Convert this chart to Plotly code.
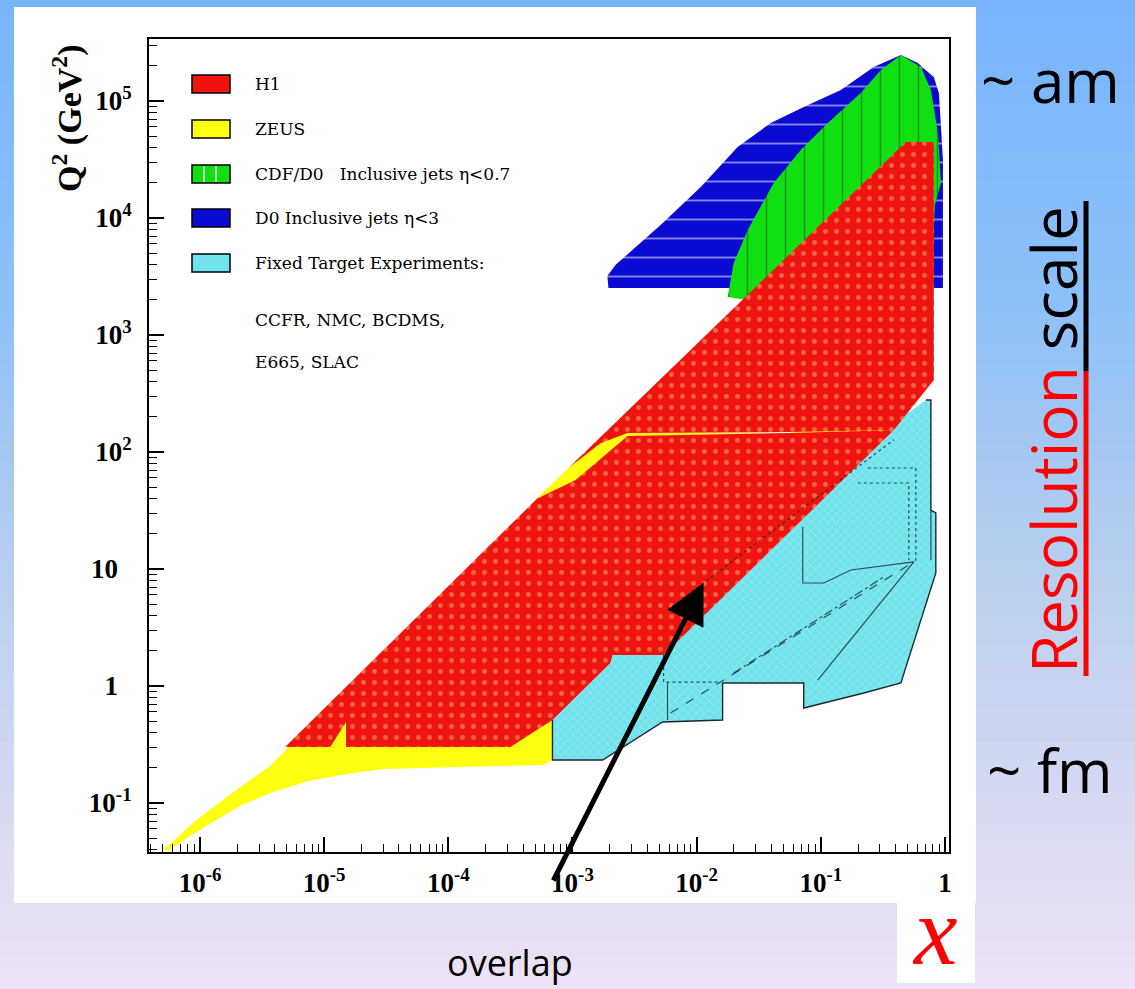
import math
import plotly.graph_objects as go

# ---------------- page / frame geometry (page pixels) ----------------
W, H = 1135, 989
PLOT_L, PLOT_R, PLOT_T, PLOT_B = 149, 949, 39, 852

# log10 ranges of the frame
X_RANGE = [-6.411, 0.033]
Q_RANGE = [-1.419, 5.530]

# ---------------- kinematic regions: polygon vertices (x, Q^2 in GeV^2) ----------------
zeus_x = [5.04e-7, 5.52e-7, 8.95e-7, 1.81e-6, 3.67e-6, 5.03e-6, 9.29e-6, 3.81e-4, 4.95e-4,
          9.29e-4, 1.68e-3, 2.78e-3, 5.73e-2, 0.442, 0.703, 0.703, 0.305, 1.08e-2, 1.68e-3,
          7.43e-4, 5.83e-4, 1.23e-4, 3.05e-5, 1.50e-5, 7.43e-6, 3.67e-6, 2.10e-6, 1.27e-6,
          7.85e-7, 5.52e-7]
zeus_q2 = [0.0412, 0.0428, 0.0689, 0.122, 0.207, 0.290, 0.565, 26.3, 38.5,
           73.0, 124, 145, 145, 2430, 2430, 352, 115, 2.47, 0.512,
           0.243, 0.211, 0.203, 0.195, 0.177, 0.154, 0.122, 0.0942, 0.0689,
           0.0502, 0.0389]

h1_low_x = [4.84e-6, 1.12e-5, 1.50e-5, 1.50e-5, 3.16e-4, 6.90e-4, 2.02e-3, 2.10e-3, 5.42e-3,
            0.388, 5.73e-2, 2.78e-3, 1.06e-3, 5.20e-4]
h1_low_q2 = [0.301, 0.301, 0.492, 0.301, 0.301, 0.512, 1.57, 1.84, 1.84,
             154, 145, 137, 57.7, 40.0]

h1_high_x = [9.29e-4, 0.484, 0.815, 0.815, 0.388, 5.73e-2, 2.78e-3, 1.68e-3]
h1_high_q2 = [73.0, 44700, 44700, 412, 154, 148, 145, 119]

d0_x = [1.95e-3, 1.91e-3, 2.22e-3, 3.53e-3, 5.13e-3, 1.08e-2, 2.14e-2, 3.95e-2, 7.29e-2,
        0.145, 0.267, 0.442, 0.605, 0.815, 0.895, 0.964, 0.964]
d0_q2 = [2520, 3190, 3970, 6110, 8710, 18400, 40400, 64800, 88900,
         124000, 195000, 247000, 211000, 160000, 117000, 31300, 2520]

cdf_x = [1.78e-2, 1.99e-2, 2.58e-2, 4.18e-2, 6.90e-2, 0.114, 0.210, 0.305, 0.442,
         0.640, 0.771, 0.879, 0.929, 0.830, 0.771, 3.28e-2]
cdf_q2 = [2110, 4120, 7900, 19900, 38100, 64800, 117000, 184000, 247000,
          195000, 124000, 53200, 19900, 12900, 1990, 1910]

fixed_x = [6.90e-4, 1.75e-3, 5.32e-3, 1.62e-2, 1.62e-2, 7.29e-2, 7.29e-2, 0.222, 0.442,
           0.845, 0.845, 0.771, 0.771, 0.703, 0.442, 5.42e-3, 2.10e-3, 6.90e-4]
fixed_q2 = [0.233, 0.233, 0.492, 0.512, 1.06, 1.06, 0.648, 0.871, 1.06,
            9.25, 30.1, 31.9, 278, 278, 195, 2.11, 2.03, 0.759]

# visible outer edge of the fixed-target area
fixed_edge_x = [6.90e-4] + fixed_x[:14]
fixed_edge_q2 = [0.512] + fixed_q2[:14]

# individual fixed-target experiment boundaries inside the combined area
ft_edges = [
    ([5.83e-3, 5.83e-3], [1.08, 0.512], "solid"),
    ([5.42e-3, 5.42e-3, 1.56e-2], [1.84, 1.08, 1.08], "dot"),
    ([6.17e-3, 0.562], [0.587, 11.5], "dash"),
    ([1.99e-2, 0.322], [1.29, 8.55], "dashdot"),
    ([5.83e-3, 0.388], [4.47, 127], "dot"),
    ([0.199, 0.512, 0.512], [54.3, 54.3, 11.9], "dot"),
    ([0.239, 0.583, 0.583], [73.0, 73.0, 11.5], "dot"),
    ([7.16e-2, 7.16e-2, 0.106, 0.175, 0.562], [22.9, 7.59, 7.59, 9.80, 11.5], "solid"),
    ([9.46e-2, 0.562], [1.12, 11.5], "solid"),
    ([0.771, 0.771], [31.9, 11.9], "solid"),
]

# arrow pointing at the HERA / fixed-target overlap
overlap_x, overlap_q2 = 0.01138, 7.59

# axis ticks
x_tickvals = [1e-6, 1e-5, 1e-4, 1e-3, 1e-2, 1e-1, 1]
x_ticktext = ["10<sup>-6</sup>", "10<sup>-5</sup>", "10<sup>-4</sup>", "10<sup>-3</sup>",
              "10<sup>-2</sup>", "10<sup>-1</sup>", "1"]
y_tickvals = [1e-1, 1, 10, 1e2, 1e3, 1e4, 1e5]
y_ticktext = ["10<sup>-1</sup>", "1\u2007", "10\u2007", "10<sup>2</sup>", "10<sup>3</sup>",
              "10<sup>4</sup>", "10<sup>5</sup>"]

legend_labels = ["H1", "ZEUS", "CDF/D0   Inclusive jets \u03b7<0.7", "D0 Inclusive jets \u03b7<3",
                 "Fixed Target Experiments:"]
legend_extra = ["CCFR, NMC, BCDMS,", "E665, SLAC"]

# colours
RED, YELLOW, GREEN, BLUE, CYAN = "#f01410", "#ffff10", "#10e010", "#0a0ad2", "#6fe2ec"
EDGE = "#1a2a30"


def px(x):
    return (x - PLOT_L) / (PLOT_R - PLOT_L)


def py(y):
    return (PLOT_B - y) / (PLOT_B - PLOT_T)


fig = go.Figure()


def region(xs, qs, color, pattern=None):
    kw = dict(x=xs, y=qs, mode="lines", fill="toself", fillcolor=color,
              line=dict(width=0, color=color), hoverinfo="skip", showlegend=False)
    if pattern:
        kw["fillpattern"] = pattern
    fig.add_trace(go.Scatter(**kw))


region(zeus_x, zeus_q2, YELLOW)
region(fixed_x, fixed_q2, CYAN,
       dict(shape="x", bgcolor=CYAN, fgcolor="#c6f6fa", size=6, solidity=0.25))
region(d0_x, d0_q2, BLUE,
       dict(shape="-", bgcolor=BLUE, fgcolor="#ffffff", size=19, solidity=0.1))
region(cdf_x, cdf_q2, GREEN,
       dict(shape="|", bgcolor=GREEN, fgcolor="#104a20", size=19, solidity=0.08))
h1_pattern = dict(shape=".", bgcolor=RED, fgcolor="#f7b870", size=11, solidity=0.16)
region(h1_low_x, h1_low_q2, RED, h1_pattern)
region(h1_high_x, h1_high_q2, RED, h1_pattern)

fig.add_trace(go.Scatter(x=fixed_edge_x, y=fixed_edge_q2, mode="lines",
                         line=dict(color=EDGE, width=1.4),
                         hoverinfo="skip", showlegend=False))
for xs, qs, dash in ft_edges:
    fig.add_trace(go.Scatter(x=xs, y=qs, mode="lines",
                             line=dict(color=EDGE, width=1.2, dash=dash),
                             opacity=0.8, hoverinfo="skip", showlegend=False))

# ---------------- background: gradient page, white panels ----------------
shapes = []
stops = [(0, (119, 180, 252)), (300, (140, 192, 248)), (600, (188, 208, 238)), (989, (238, 226, 246))]


def grad(y):
    for (y0, c0), (y1, c1) in zip(stops[:-1], stops[1:]):
        if y0 <= y <= y1:
            t = (y - y0) / (y1 - y0)
            return "rgb(%d,%d,%d)" % tuple(round(a + (b - a) * t) for a, b in zip(c0, c1))
    return "rgb(%d,%d,%d)" % stops[-1][1]


n_strips = 60
for i in range(n_strips):
    y0 = H * i / n_strips
    y1 = H * (i + 1) / n_strips + 1
    shapes.append(dict(type="rect", xref="paper", yref="paper", layer="below",
                       x0=px(0), x1=px(W), y0=py(y1), y1=py(y0),
                       fillcolor=grad((y0 + y1) / 2), line=dict(width=0)))
shapes.append(dict(type="rect", xref="paper", yref="paper", layer="below",
                   x0=px(14), x1=px(976), y0=py(903), y1=py(7),
                   fillcolor="white", line=dict(width=0)))
shapes.append(dict(type="rect", xref="paper", yref="paper", layer="below",
                   x0=px(897), x1=px(975), y0=py(983), y1=py(900),
                   fillcolor="white", line=dict(width=0)))

# legend swatches and labels
LEG_FONT = dict(family="DejaVu Serif", size=17, color="black")
sw_fill = [RED, YELLOW, GREEN, BLUE, CYAN]
sw_top = [75, 120, 165, 209, 254]
annotations = []
for lab, c, t in zip(legend_labels, sw_fill, sw_top):
    shapes.append(dict(type="rect", xref="paper", yref="paper", layer="above",
                       x0=px(192), x1=px(230), y0=py(t + 18), y1=py(t),
                       fillcolor=c, line=dict(color="black", width=1.5)))
    annotations.append(dict(xref="paper", yref="paper", x=px(253), y=py(t + 9),
                            xanchor="left", yanchor="middle", showarrow=False, text=lab,
                            font=LEG_FONT))
for xl in (204, 216):
    shapes.append(dict(type="line", xref="paper", yref="paper", layer="above",
                       x0=px(xl), x1=px(xl), y0=py(182), y1=py(166),
                       line=dict(color="white", width=1.5)))
for lab, yc in zip(legend_extra, (320, 362)):
    annotations.append(dict(xref="paper", yref="paper", x=px(253), y=py(yc),
                            xanchor="left", yanchor="middle", showarrow=False, text=lab,
                            font=LEG_FONT))

# "Resolution scale" underline
shapes.append(dict(type="line", xref="paper", yref="paper", x0=px(1086), x1=px(1086),
                   y0=py(676), y1=py(371), line=dict(color="#ff0000", width=5)))
shapes.append(dict(type="line", xref="paper", yref="paper", x0=px(1086), x1=px(1086),
                   y0=py(371), y1=py(201), line=dict(color="black", width=5)))

SANS = "Open Sans"


def label(x, y, text, font, angle=0, **extra):
    d = dict(xref="paper", yref="paper", x=px(x), y=py(y), xanchor="center",
             yanchor="middle", textangle=angle, showarrow=False, text=text, font=font)
    d.update(extra)
    return d


annotations += [
    label(67, 118, "<b>Q<sup>2</sup> (GeV<sup>2</sup>)</b>",
          dict(family="Liberation Serif", size=34, color="black"), -90),
    label(1050, 80, "~ am", dict(family=SANS, size=60, color="black")),
    label(1050, 770, "~ fm", dict(family=SANS, size=60, color="black")),
    label(1053, 440, '<span style="color:#ff0000">Resolution</span> scale',
          dict(family=SANS, size=62, color="black"), -90),
    label(935, 987, "<i>x</i>", dict(family="Liberation Serif", size=98, color="#ff0000"),
          yanchor="bottom", height=72, valign="bottom"),
    label(510, 989, "overlap", dict(family=SANS, size=36, color="black"), yanchor="bottom"),
    dict(xref="x", yref="y", x=math.log10(overlap_x), y=math.log10(overlap_q2), text="",
         showarrow=True, arrowhead=2, arrowsize=1.6, arrowwidth=5, arrowcolor="black",
         ax=-151, ay=299),
]

minor_x = [m * 10.0 ** k for k in range(-7, 1) for m in range(2, 10)]
minor_y = [m * 10.0 ** k for k in range(-2, 6) for m in range(2, 10)]

axis_common = dict(type="log", showgrid=False, zeroline=False, showline=True,
                   linecolor="black", linewidth=2, mirror=True, ticks="inside",
                   ticklen=15, tickwidth=1.6, tickcolor="black",
                   tickfont=dict(family="Liberation Serif", size=27, color="black", weight="bold"))

fig.update_layout(
    width=W, height=H,
    margin=dict(l=PLOT_L, r=W - PLOT_R, t=PLOT_T, b=H - PLOT_B, pad=0),
    paper_bgcolor="white", plot_bgcolor="rgba(0,0,0,0)",
    xaxis=dict(range=X_RANGE, tickmode="array", tickvals=x_tickvals, ticktext=x_ticktext,
               ticklabelstandoff=6,
               minor=dict(tickmode="array", tickvals=minor_x, ticks="inside", ticklen=8,
                          tickwidth=1.2, tickcolor="black", showgrid=False),
               **axis_common),
    yaxis=dict(range=Q_RANGE, tickmode="array", tickvals=y_tickvals, ticktext=y_ticktext,
               ticklabelstandoff=10,
               minor=dict(tickmode="array", tickvals=minor_y, ticks="inside", ticklen=8,
                          tickwidth=1.2, tickcolor="black", showgrid=False),
               **axis_common),
    shapes=shapes, annotations=annotations, showlegend=False,
)

fig.write_html("out.html")
